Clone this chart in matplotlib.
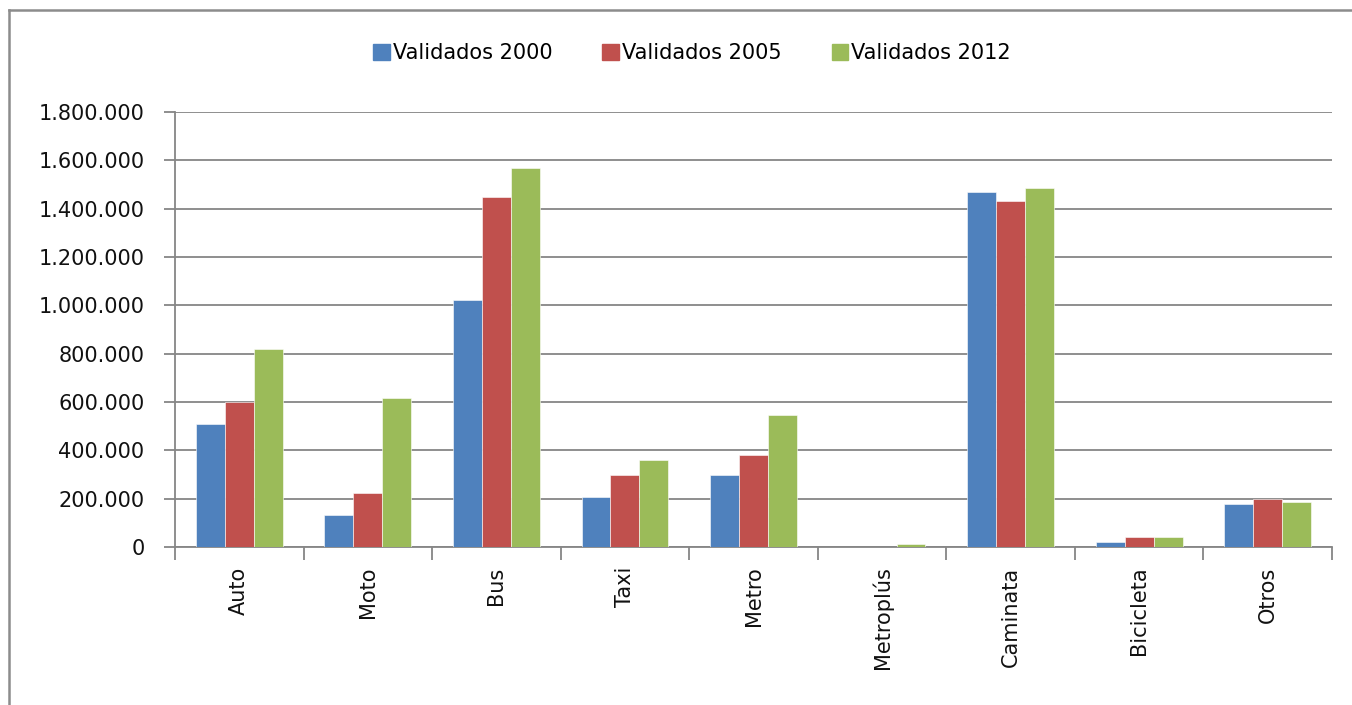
import matplotlib
matplotlib.use("Agg")
import matplotlib.pyplot as plt
from matplotlib.lines import Line2D
from matplotlib.ticker import FuncFormatter, MultipleLocator
import numpy as np

categories = ["Auto", "Moto", "Bus", "Taxi", "Metro", "Metroplús", "Caminata", "Bicicleta", "Otros"]
series_names = ["Validados 2000", "Validados 2005", "Validados 2012"]
v2000 = [509000, 132000, 1022000, 207000, 298000, 0, 1469000, 21000, 178000]
v2005 = [600000, 223000, 1448000, 298000, 381000, 0, 1432000, 41000, 199000]
v2012 = [819000, 617000, 1568000, 360000, 546000, 12000, 1486000, 41000, 186000]
colors = ["#4F81BD", "#C0504D", "#9BBB59"]

W, H = 1352, 705
fig = plt.figure(figsize=(W / 100, H / 100), dpi=100)
ax = fig.add_axes([175 / W, 1 - 547 / H, (1332 - 175) / W, (547 - 112) / H])

x = np.arange(len(categories))
bw = 0.225
for i, (vals, c, name) in enumerate(zip([v2000, v2005, v2012], colors, series_names)):
    ax.bar(x + (i - 1) * bw, vals, width=bw, color=c, label=name, zorder=3,
           edgecolor="white", linewidth=0.4)

ax.set_xlim(-0.5, len(categories) - 0.5)
ax.set_ylim(0, 1800000)
ax.yaxis.set_major_locator(MultipleLocator(200000))
ax.yaxis.set_major_formatter(FuncFormatter(lambda v, p: f"{int(v):,}".replace(",", ".")))
ax.grid(axis="y", color="#868686", linewidth=1.3, zorder=0)

for s in ["top", "right"]:
    ax.spines[s].set_visible(False)
for s in ["left", "bottom"]:
    ax.spines[s].set_color("#868686")
    ax.spines[s].set_linewidth(1.3)

ax.set_xticks(x)
ax.set_xticklabels(categories, rotation=90, fontsize=15, color="#111111")
ax.tick_params(axis="x", length=0, pad=14)
ax.set_xticks(np.arange(-0.5, len(categories)), minor=True)
ax.tick_params(axis="x", which="minor", length=9, color="#868686", width=1.3)
ax.tick_params(axis="y", length=8, color="#868686", width=1.3, labelsize=15, pad=14,
               labelcolor="#111111")

handles = [plt.Rectangle((0, 0), 1, 1, color=c) for c in colors]
fig.legend(handles, series_names, loc="center", bbox_to_anchor=(692 / W, 1 - 53 / H),
           ncol=3, frameon=False, fontsize=15, handlelength=0.8, handleheight=0.8,
           handletextpad=0.15, columnspacing=2.4)

fig.add_artist(Line2D([9 / W, 9 / W], [0, 1 - 10 / H], transform=fig.transFigure,
                      color="#8c8c8c", linewidth=1.8))
fig.add_artist(Line2D([9 / W, 1], [1 - 10 / H, 1 - 10 / H], transform=fig.transFigure,
                      color="#8c8c8c", linewidth=1.8))

fig.savefig("out.png", dpi=100, facecolor="white")
